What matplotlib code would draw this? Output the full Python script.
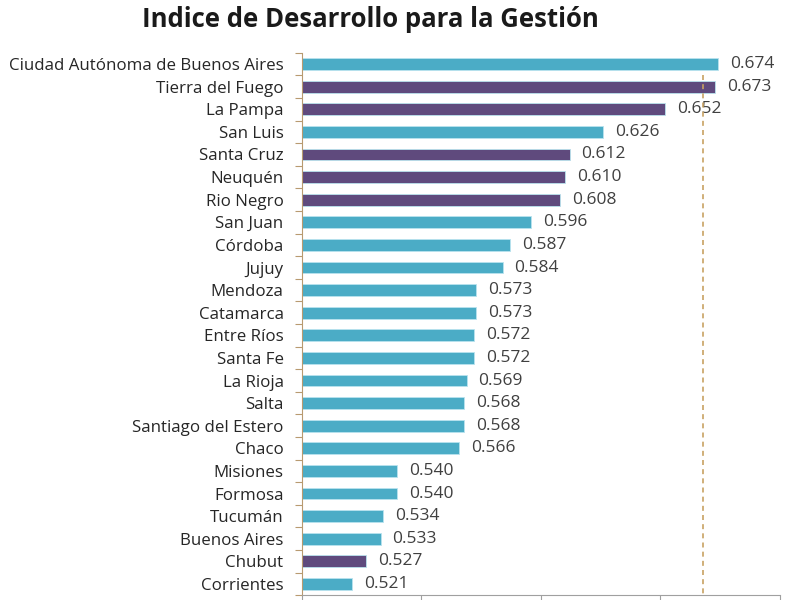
import numpy as np
import matplotlib.pyplot as plt

plt.rcParams['font.family'] = ['Open Sans', 'DejaVu Sans']

# provinces, top to bottom as in the chart
provincias = ["Ciudad Autónoma de Buenos Aires", "Tierra del Fuego", "La Pampa",
              "San Luis", "Santa Cruz", "Neuquén", "Rio Negro", "San Juan",
              "Córdoba", "Jujuy", "Mendoza", "Catamarca", "Entre Ríos", "Santa Fe",
              "La Rioja", "Salta", "Santiago del Estero", "Chaco", "Misiones",
              "Formosa", "Tucumán", "Buenos Aires", "Chubut", "Corrientes"]
valores = [0.674, 0.673, 0.652, 0.626, 0.612, 0.610, 0.608, 0.596, 0.587, 0.584,
           0.573, 0.573, 0.572, 0.572, 0.569, 0.568, 0.568, 0.566, 0.540, 0.540,
           0.534, 0.533, 0.527, 0.521]
# 1 = purple group, 0 = teal group
grupo = [0, 1, 1, 0, 1, 1, 1, 0, 0, 0, 0, 0, 0, 0, 0, 0, 0, 0, 0, 0, 0, 0, 1, 0]
referencia = 0.668

teal = '#4BACC6'
purple = '#5F4A7D'
colores = [purple if g else teal for g in grupo]

fig = plt.figure(figsize=(8, 6), dpi=100)
ax = fig.add_axes([0.377, 0.008, 0.598, 0.904])

y = np.arange(len(provincias))
ax.barh(y, valores, height=0.52, color=colores, edgecolor='#B9E3EE', linewidth=0.6, zorder=2)

for yi, v in zip(y, valores):
    ax.text(v + 0.005, yi, f"{v:.3f}", va='center', ha='left', fontsize=12.5, color='#404040')

ax.vlines(referencia, 0.5, len(provincias) - 0.5, colors='#C8A262', linestyles=(0, (3, 2.5)),
          linewidth=1.2, zorder=3)

ax.set_xlim(0.50, 0.70)
ax.set_ylim(len(provincias) - 0.5, -0.5)
ax.set_xticks([0.50, 0.55, 0.60, 0.65, 0.70])
ax.set_xticklabels([])
ax.set_yticks(y)
ax.set_yticklabels(provincias, fontsize=12.2, color='#262626')
ax.set_yticks(np.arange(len(provincias) + 1) - 0.5, minor=True)
ax.tick_params(axis='y', which='major', length=0, pad=13)
ax.tick_params(axis='y', which='minor', length=5, color='#B89A70', width=0.8)
ax.tick_params(axis='x', length=4, color='#A0A0A0', direction='out')

for s in ['top', 'right']:
    ax.spines[s].set_visible(False)
ax.spines['left'].set_color('#B89A70')
ax.spines['bottom'].set_color('#A0A0A0')

fig.suptitle("Indice de Desarrollo para la Gestión", x=0.463, y=0.99, fontsize=18.5,
             fontweight='bold', color='#1A1A1A')

fig.savefig('out.png', dpi=100)
